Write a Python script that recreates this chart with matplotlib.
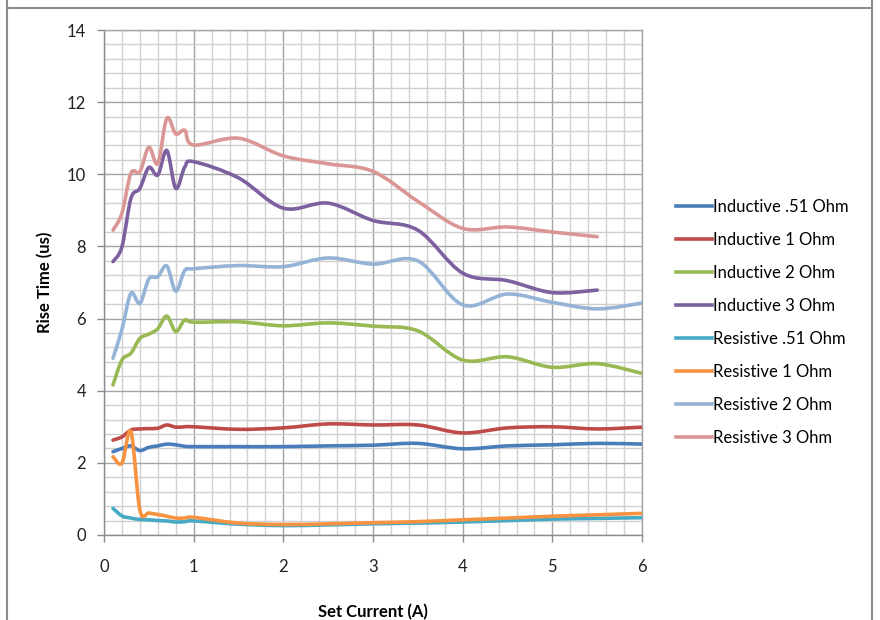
import numpy as np
import matplotlib
matplotlib.use("Agg")
import matplotlib.pyplot as plt
from matplotlib.path import Path
from matplotlib.patches import PathPatch
from matplotlib.lines import Line2D

plt.rcParams['font.family'] = ['Lato', 'DejaVu Sans']

# set current (A) - 0.1 steps to 1 A, then 0.5 A steps
current = [0.1, 0.2, 0.3, 0.4, 0.5, 0.6, 0.7, 0.8, 0.9, 1.0,
           1.5, 2.0, 2.5, 3.0, 3.5, 4.0, 4.5, 5.0, 5.5, 6.0]
current_3ohm = current[:-1]   # 3 Ohm runs stop at 5.5 A

ind_051 = [2.31, 2.40, 2.47, 2.34, 2.43, 2.47, 2.52, 2.50, 2.46, 2.45,
           2.45, 2.45, 2.47, 2.49, 2.54, 2.39, 2.47, 2.50, 2.54, 2.52]
ind_1 = [2.63, 2.72, 2.91, 2.94, 2.95, 2.96, 3.05, 2.99, 3.00, 3.00,
         2.93, 2.97, 3.08, 3.05, 3.05, 2.83, 2.97, 3.00, 2.94, 2.99]
ind_2 = [4.16, 4.85, 5.04, 5.45, 5.57, 5.72, 6.07, 5.64, 5.96, 5.90,
         5.91, 5.80, 5.88, 5.79, 5.66, 4.85, 4.94, 4.65, 4.75, 4.48]
ind_3 = [7.58, 7.99, 9.33, 9.61, 10.19, 9.98, 10.66, 9.61, 10.20, 10.35,
         9.90, 9.06, 9.20, 8.72, 8.45, 7.26, 7.05, 6.72, 6.79]
res_051 = [0.74, 0.53, 0.47, 0.43, 0.42, 0.40, 0.39, 0.36, 0.37, 0.39,
           0.30, 0.26, 0.28, 0.31, 0.33, 0.36, 0.40, 0.44, 0.46, 0.48]
res_1 = [2.17, 1.99, 2.86, 0.69, 0.61, 0.57, 0.52, 0.47, 0.47, 0.49,
         0.33, 0.29, 0.31, 0.34, 0.37, 0.42, 0.47, 0.52, 0.56, 0.60]
res_2 = [4.90, 5.70, 6.70, 6.42, 7.10, 7.16, 7.46, 6.76, 7.33, 7.38,
         7.47, 7.44, 7.68, 7.51, 7.60, 6.38, 6.68, 6.45, 6.27, 6.43]
res_3 = [8.45, 8.92, 10.03, 10.07, 10.75, 10.30, 11.55, 11.12, 11.22, 10.81,
         11.00, 10.51, 10.29, 10.08, 9.25, 8.50, 8.54, 8.40, 8.27]

series = [
    ("Inductive .51 Ohm", current, ind_051, "#4A7EBB"),
    ("Inductive 1 Ohm", current, ind_1, "#BE4B48"),
    ("Inductive 2 Ohm", current, ind_2, "#98B954"),
    ("Inductive 3 Ohm", current_3ohm, ind_3, "#7D60A0"),
    ("Resistive .51 Ohm", current, res_051, "#46AAC5"),
    ("Resistive 1 Ohm", current, res_1, "#F69240"),
    ("Resistive 2 Ohm", current, res_2, "#95B3D7"),
    ("Resistive 3 Ohm", current_3ohm, res_3, "#DA9694"),
]


def smooth_path(xs, ys):
    # excel style smoothed line: cubic bezier through the points
    p = np.column_stack([xs, ys]).astype(float)
    verts = [p[0]]
    codes = [Path.MOVETO]
    n = len(p)
    for i in range(n - 1):
        p0 = p[i - 1] if i > 0 else p[i]
        p1, p2 = p[i], p[i + 1]
        p3 = p[i + 2] if i + 2 < n else p[i + 1]
        verts += [p1 + (p2 - p0) / 6, p2 - (p3 - p1) / 6, p2]
        codes += [Path.CURVE4] * 3
    return Path(verts, codes)


fig = plt.figure(figsize=(8.8, 6.2), dpi=100)
ax = fig.add_axes([0.1182, 0.1371, 0.6114, 0.8145])

handles = []
for name, xs, ys, col in series:
    patch = PathPatch(smooth_path(xs, ys), facecolor='none', edgecolor=col,
                      lw=2.6, capstyle='round', joinstyle='round', zorder=3)
    ax.add_patch(patch)
    handles.append(Line2D([], [], color=col, lw=2.6, label=name))

ax.set_xlim(0, 6)
ax.set_ylim(0, 14)
ax.set_xticks(np.arange(0, 7, 1))
ax.set_yticks(np.arange(0, 15, 2))
ax.set_xticks(np.arange(0, 6.01, 0.2), minor=True)
ax.set_yticks(np.arange(0, 14.01, 0.4), minor=True)
ax.grid(which='minor', color='#d0d0d0', lw=1.0, zorder=0)
ax.grid(which='major', color='#a4a4a4', lw=1.0, zorder=1)
ax.set_axisbelow(True)
ax.tick_params(which='minor', length=0)
ax.tick_params(which='major', direction='out', length=5, width=1,
               color='#8c8c8c', labelsize=12, labelcolor='#222222')
ax.tick_params(axis='x', pad=12)
ax.tick_params(axis='y', pad=8)
for s in ax.spines.values():
    s.set_color('#a4a4a4')
    s.set_linewidth(1.0)
ax.spines['left'].set_color('#8c8c8c')
ax.spines['bottom'].set_color('#8c8c8c')

ax.set_xlabel("Set Current (A)", fontsize=12, fontweight='bold', labelpad=21)
ax.set_ylabel("Rise Time (us)", fontsize=12, fontweight='bold', labelpad=10)

fig.legend(handles=handles, loc='upper left', bbox_to_anchor=(0.768, 0.679),
           frameon=False, fontsize=12, handlelength=2.15, handletextpad=0.1,
           labelspacing=1.02, borderpad=0, borderaxespad=0)

# outer chart border
border = dict(color='#8c8c8c', lw=1.5, transform=fig.transFigure, clip_on=False)
fig.add_artist(Line2D([7 / 880, 7 / 880], [0, 1], **border))
fig.add_artist(Line2D([872 / 880, 872 / 880], [0, 1], **border))
fig.add_artist(Line2D([7 / 880, 872 / 880], [1 - 8 / 620, 1 - 8 / 620], **border))

fig.savefig("out.png", dpi=100)
